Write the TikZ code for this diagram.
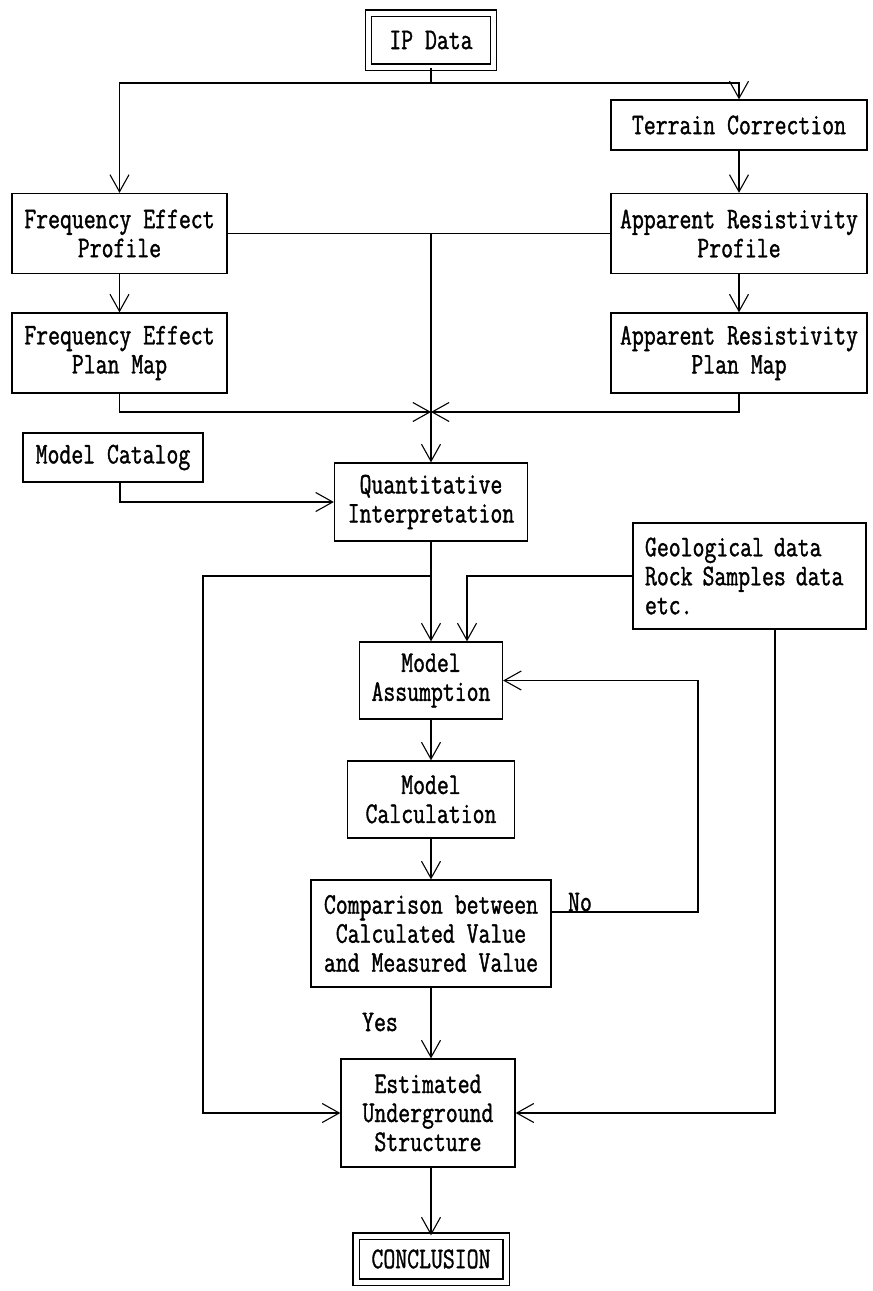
\documentclass[tikz,border=0pt]{standalone}
\usepackage{fontspec}
\setmonofont[FakeStretch=0.77, FakeBold=1.2]{Latin Modern Mono}
\usetikzlibrary{arrows.meta}

\begin{document}
\begin{tikzpicture}[x=1pt, y=-1pt,
    box/.style={draw, line width=1.3pt, inner sep=0pt, align=center, font=\ttfamily\fontsize{30}{29}\selectfont},
    lbl/.style={inner sep=0pt, font=\ttfamily\fontsize{30}{29}\selectfont},
    arr/.style={line width=1.1pt, -{Straight Barb[length=17pt, width=19pt]}},
    link/.style={line width=1.1pt}]
  \useasboundingbox (0,0) rectangle (873,1291);

  % boxes
  \node[box, double, double distance=5pt, minimum width=125pt, minimum height=54pt] (ipdata) at (431,40) {IP Data};
  \node[box, minimum width=256pt, minimum height=50pt] (terrain) at (739,125) {Terrain Correction};
  \node[box, minimum width=215pt, minimum height=80pt] (fep) at (119.5,233.5) {Frequency Effect\\Profile};
  \node[box, minimum width=256pt, minimum height=80pt] (arp) at (739,233.5) {Apparent Resistivity\\Profile};
  \node[box, minimum width=215pt, minimum height=80pt] (fem) at (119.5,353) {Frequency Effect\\Plan Map};
  \node[box, minimum width=256pt, minimum height=80pt] (arm) at (739,353) {Apparent Resistivity\\Plan Map};
  \node[box, minimum width=180pt, minimum height=49pt] (catalog) at (113,457.5) {Model Catalog};
  \node[box, minimum width=193pt, minimum height=78pt] (quant) at (431,502) {Quantitative\\Interpretation};
  \node[box, align=left, inner xsep=12pt, text width=209pt, minimum height=106pt] (geo) at (749.5,576) {Geological data\\Rock Samples data\\etc.};
  \node[box, minimum width=143pt, minimum height=77pt] (assume) at (431,680.5) {Model\\Assumption};
  \node[box, minimum width=167pt, minimum height=77pt] (calc) at (431,799.5) {Model\\Calculation};
  \node[box, minimum width=240pt, minimum height=107pt] (compare) at (431,933.5) {Comparison between\\Calculated Value\\and Measured Value};
  \node[box, minimum width=174pt, minimum height=108pt] (estimate) at (428,1113) {Estimated\\Underground\\Structure};
  \node[box, double, double distance=5pt, minimum width=150pt, minimum height=46pt] (concl) at (431,1259) {CONCLUSION};

  \node[lbl] (no) at (580,902) {No};
  \node[lbl] (yes) at (380,1022) {Yes};

  % junctions
  \coordinate (split) at (431,83);
  \coordinate (jtop) at (431,233.5);
  \coordinate (jmid) at (431,412);
  \coordinate (jlow) at (431,576);
  \coordinate (lft) at (203,576);
  \coordinate (noturn) at (698,912);

  % connectors
  \draw[link] (ipdata.south) -- (split);
  \draw[arr] (split) -| (fep.north);
  \draw[arr] (split) -| (terrain.north);
  \draw[arr] (terrain) -- (arp);
  \draw[arr] (fep) -- (fem);
  \draw[arr] (arp) -- (arm);
  \draw[link] (fep.east) -- (jtop) -- (arp.west);
  \draw[arr] (jtop) -- (quant.north);
  \draw[arr] (fem.south) |- (jmid);
  \draw[arr] (arm.south) |- (jmid);
  \draw[arr] ([xshift=7pt]catalog.south) |- (quant.west);
  \draw[arr] (quant) -- (assume);
  \draw[arr] (jlow) -- (lft) |- (estimate.west);
  \draw[arr] (geo.west) -| ([xshift=36pt]assume.north);
  \draw[arr] ([xshift=25.5pt]geo.south) |- (estimate.east);
  \draw[arr] (assume) -- (calc);
  \draw[arr] (calc) -- (compare);
  \draw[arr] (compare.east |- noturn) -- (noturn) |- (assume.east);
  \draw[arr] (compare) -- (estimate.north -| compare.south);
  \draw[arr] (estimate.south -| concl.north) -- (concl);
\end{tikzpicture}
\end{document}
